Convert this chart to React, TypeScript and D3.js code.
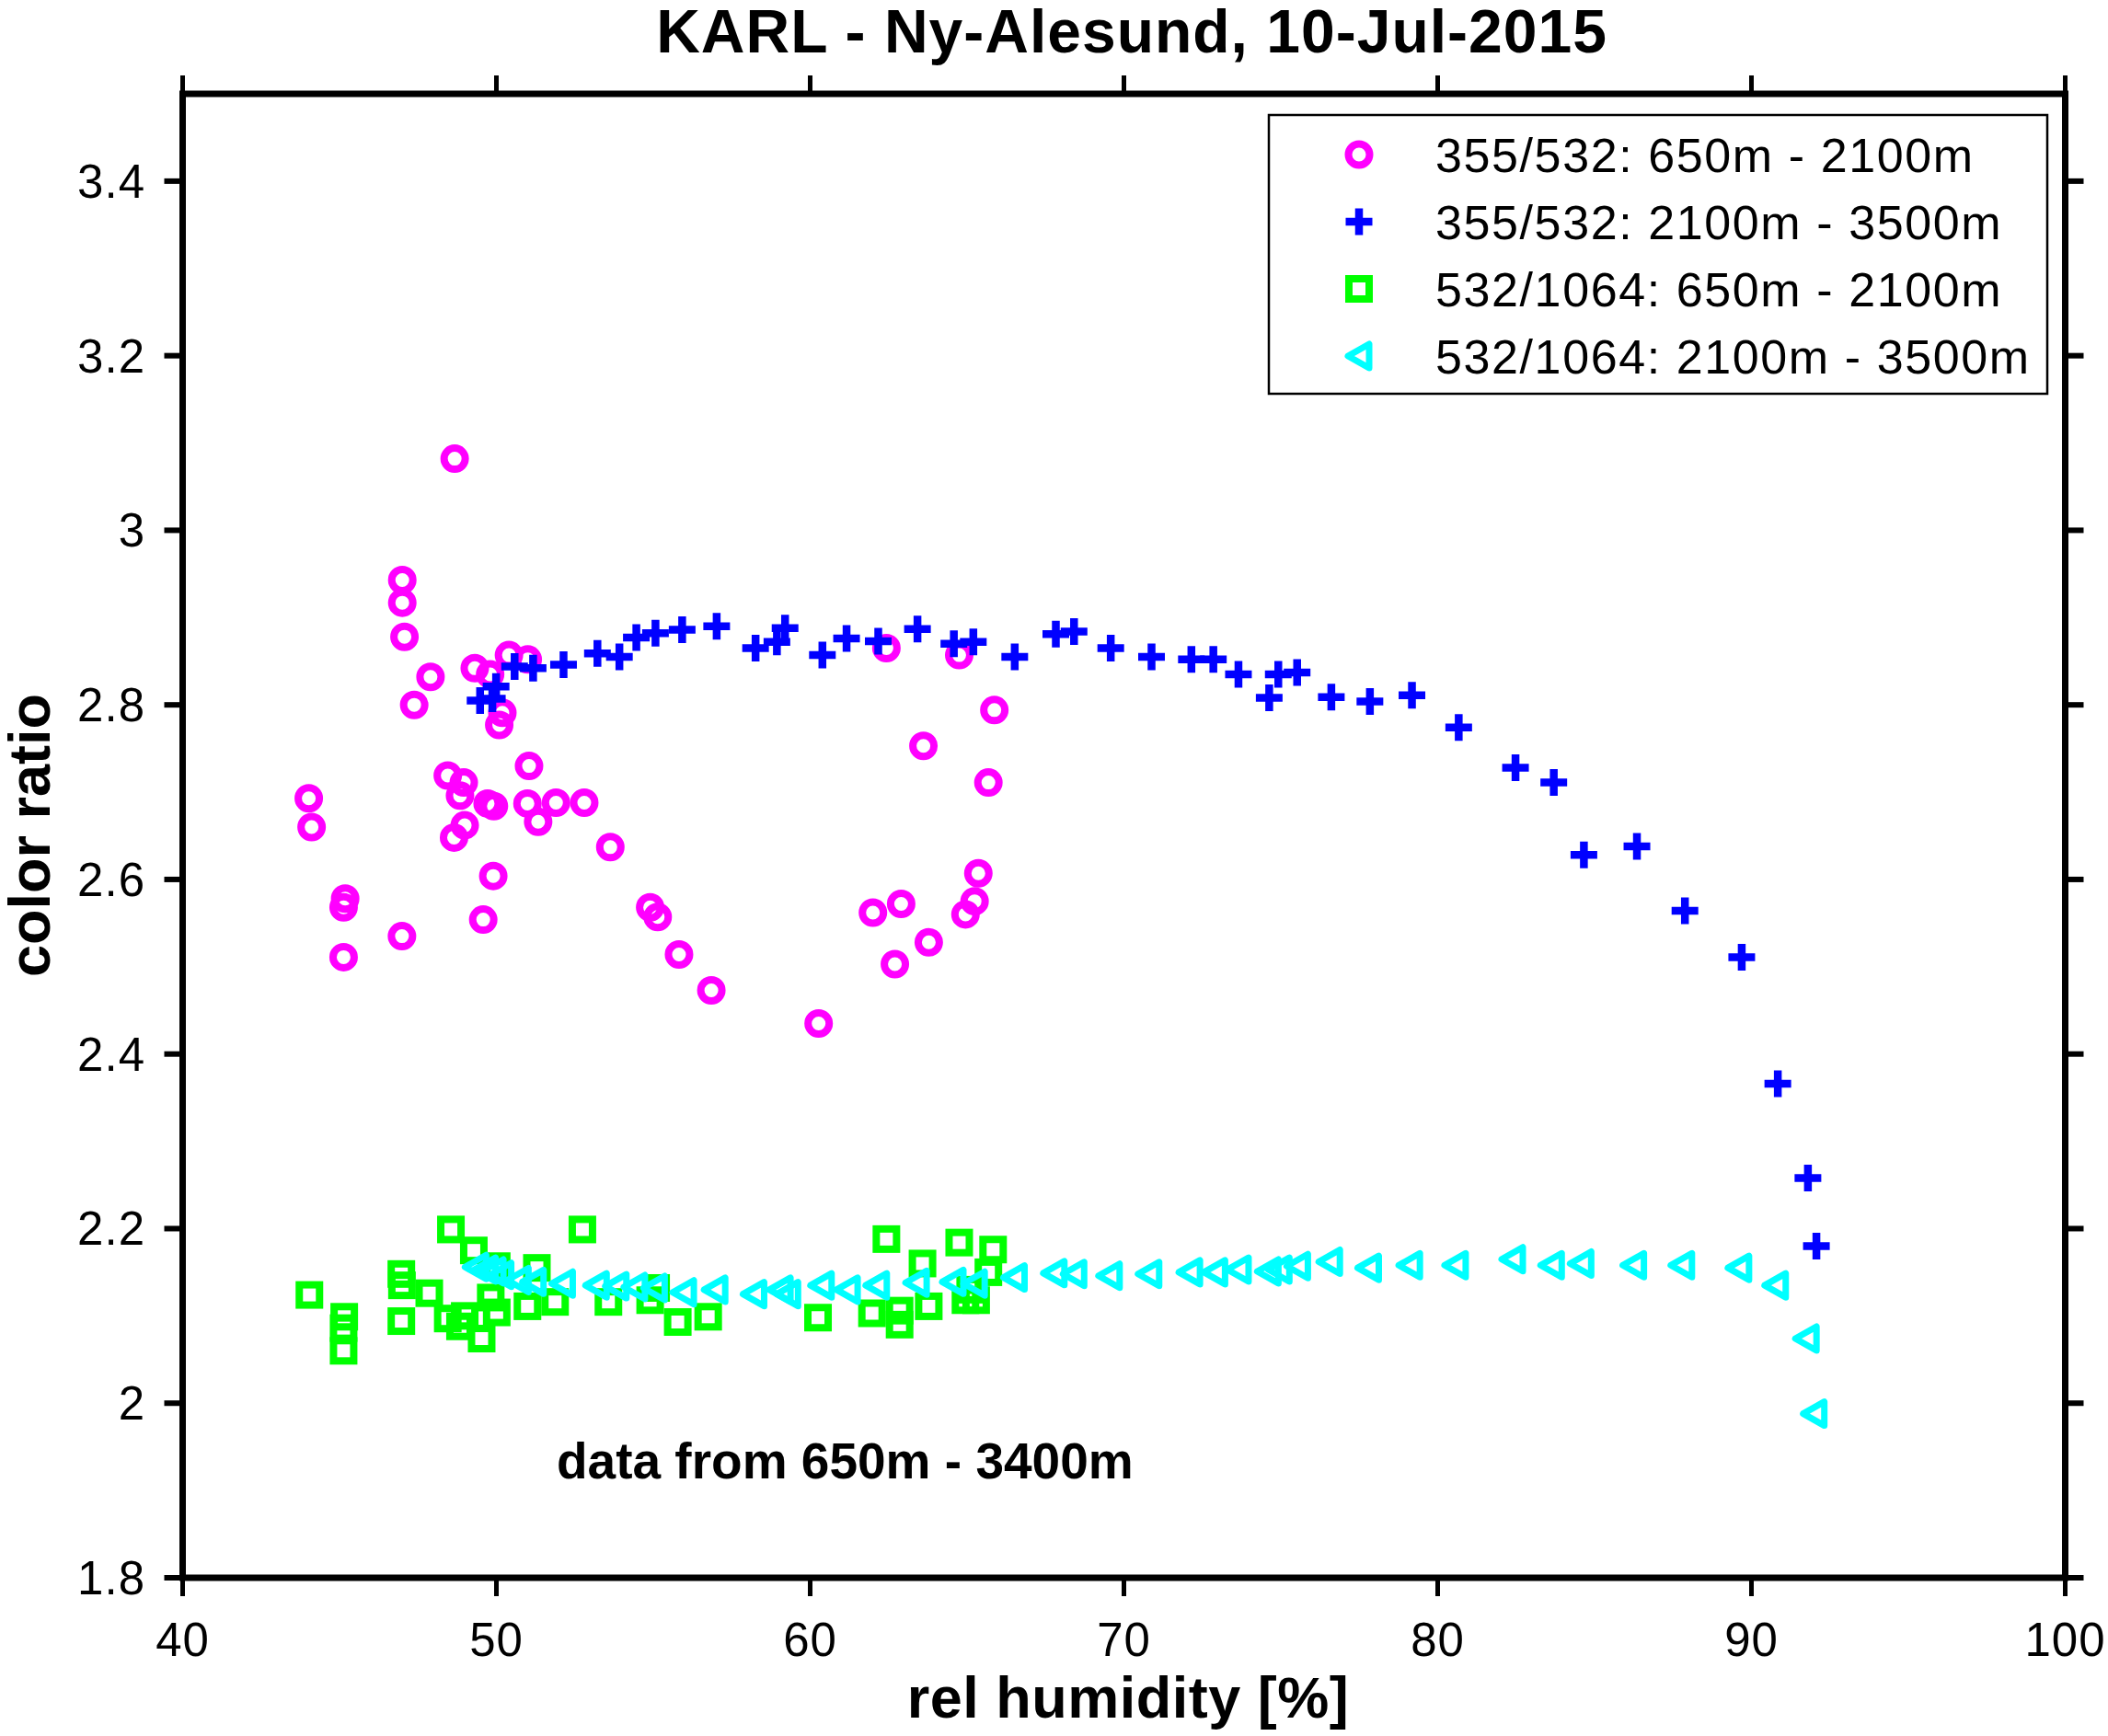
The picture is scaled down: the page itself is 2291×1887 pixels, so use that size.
import * as d3 from "d3";
import { useEffect } from "react";

// rel humidity [%], color ratio
const ratio355Low: [number, number][] = [
  [44.02, 2.693], [44.11, 2.66], [45.18, 2.578], [45.13, 2.568], [45.13, 2.511],
  [47.0, 2.943], [47.0, 2.917], [47.07, 2.878], [46.99, 2.535], [47.38, 2.8],
  [47.9, 2.832], [48.67, 3.082], [48.45, 2.719], [48.96, 2.711], [48.84, 2.696],
  [48.65, 2.648], [48.99, 2.662], [49.31, 2.842], [49.72, 2.687], [49.92, 2.684],
  [49.8, 2.835], [49.9, 2.604], [49.58, 2.554], [50.19, 2.791], [50.09, 2.777],
  [50.4, 2.857], [51.0, 2.852], [51.04, 2.73], [50.99, 2.687], [51.33, 2.666],
  [51.9, 2.688], [52.8, 2.688], [53.63, 2.637], [54.9, 2.568], [55.14, 2.557],
  [55.82, 2.514], [56.85, 2.473], [60.27, 2.435], [62.0, 2.562], [62.43, 2.865],
  [62.7, 2.503], [62.9, 2.572], [63.61, 2.753], [63.78, 2.528], [64.75, 2.857],
  [64.95, 2.56], [65.24, 2.575], [65.36, 2.607], [65.68, 2.711], [65.87, 2.794],
];

const ratio355High: [number, number][] = [
  [49.48, 2.805], [49.87, 2.807], [49.99, 2.821], [50.58, 2.844], [51.17, 2.842],
  [52.14, 2.846], [53.22, 2.859], [53.92, 2.855], [54.46, 2.877], [55.07, 2.882],
  [55.92, 2.886], [57.02, 2.89], [58.26, 2.865], [58.94, 2.872], [59.2, 2.888],
  [60.39, 2.857], [61.16, 2.876], [62.17, 2.873], [63.42, 2.887], [64.58, 2.87],
  [65.2, 2.872], [66.52, 2.855], [67.83, 2.881], [68.41, 2.884], [69.58, 2.865],
  [70.88, 2.855], [72.15, 2.852], [72.85, 2.852], [73.65, 2.835], [74.63, 2.808],
  [74.92, 2.835], [75.52, 2.837], [76.61, 2.809], [77.84, 2.804], [79.18, 2.811],
  [80.67, 2.774], [82.48, 2.728], [83.7, 2.711], [84.66, 2.628], [86.35, 2.638],
  [87.88, 2.564], [89.69, 2.511], [90.84, 2.366], [91.8, 2.258], [92.07, 2.18],
];

const ratio532Low: [number, number][] = [
  [44.04, 2.124], [45.15, 2.099], [45.13, 2.086], [45.13, 2.06], [46.97, 2.148],
  [46.99, 2.135], [46.97, 2.094], [47.86, 2.126], [48.55, 2.199], [49.28, 2.175],
  [48.45, 2.097], [48.84, 2.088], [48.99, 2.1], [49.53, 2.074], [50.01, 2.157],
  [49.82, 2.121], [50.01, 2.104], [51.29, 2.155], [50.99, 2.111], [51.87, 2.116],
  [52.74, 2.199], [53.57, 2.116], [55.09, 2.132], [54.9, 2.118], [55.78, 2.093],
  [56.75, 2.099], [60.25, 2.098], [62.43, 2.188], [61.97, 2.103], [62.85, 2.106],
  [62.85, 2.09], [63.58, 2.16], [63.78, 2.111], [64.75, 2.184], [65.83, 2.176],
  [65.68, 2.15], [64.95, 2.118], [65.29, 2.118], [65.1, 2.13],
];

const ratio532High: [number, number][] = [
  [49.35, 2.156], [49.65, 2.153], [49.9, 2.151], [50.15, 2.147], [50.7, 2.141],
  [51.18, 2.139], [52.11, 2.137], [53.19, 2.135], [53.82, 2.134], [54.41, 2.133],
  [55.04, 2.132], [55.97, 2.127], [56.97, 2.13], [58.21, 2.125], [59.05, 2.13],
  [59.29, 2.125], [60.36, 2.135], [61.19, 2.13], [62.12, 2.135], [63.39, 2.138],
  [64.56, 2.139], [65.24, 2.137], [66.51, 2.144], [67.78, 2.149], [68.41, 2.148],
  [69.54, 2.146], [70.8, 2.148], [72.1, 2.15], [72.9, 2.15], [73.65, 2.153],
  [74.6, 2.151], [74.95, 2.153], [75.54, 2.157], [76.56, 2.162], [77.8, 2.155],
  [79.11, 2.158], [80.57, 2.158], [82.39, 2.165], [83.63, 2.158], [84.57, 2.16],
  [86.25, 2.158], [87.78, 2.158], [89.6, 2.155], [90.77, 2.135], [91.75, 2.074],
  [92.0, 1.988],
];

const legendLabels = [
  "355/532: 650m - 2100m",
  "355/532: 2100m - 3500m",
  "532/1064: 650m - 2100m",
  "532/1064: 2100m - 3500m",
];

const xTicks = [40, 50, 60, 70, 80, 90, 100];
const yTicks = [1.8, 2, 2.2, 2.4, 2.6, 2.8, 3, 3.2, 3.4];

const W = 2291;
const H = 1887;
const FONT = "'Liberation Sans', Arial, Helvetica, sans-serif";

const x = d3.scaleLinear().domain([40, 100]).range([198.5, 2244.5]);
const y = d3.scaleLinear().domain([1.8, 3.5]).range([1715, 102]);

type Kind = "circle" | "plus" | "square" | "tri";

const Marker = ({ kind, cx, cy }: { kind: Kind; cx: number; cy: number }) => {
  if (kind === "circle")
    return <circle cx={cx} cy={cy} r={11.5} fill="none" stroke="#ff00ff" strokeWidth={8} />;
  if (kind === "plus")
    return (
      <path
        d={`M${cx - 14.5},${cy}H${cx + 14.5}M${cx},${cy - 14.5}V${cy + 14.5}`}
        stroke="#0000ff"
        strokeWidth={8.5}
      />
    );
  if (kind === "square")
    return (
      <rect x={cx - 11} y={cy - 11} width={22} height={22} fill="none" stroke="#00ff00" strokeWidth={8} />
    );
  return (
    <path
      d={`M${cx - 12},${cy}L${cx + 11},${cy - 13}L${cx + 11},${cy + 13}Z`}
      fill="none"
      stroke="#00ffff"
      strokeWidth={7}
      strokeLinejoin="round"
    />
  );
};

const series: { kind: Kind; data: [number, number][] }[] = [
  { kind: "circle", data: ratio355Low },
  { kind: "plus", data: ratio355High },
  { kind: "square", data: ratio532Low },
  { kind: "tri", data: ratio532High },
];

const App = () => {
  useEffect(() => {
    document.body.style.margin = "0";
  }, []);

  const [x0, x1] = x.range();
  const [y0, y1] = y.range();
  const tick = 20;
  const fmt = d3.format("~g");

  return (
    <svg width={W} height={H} style={{ display: "block", background: "#fff" }} fontFamily={FONT}>
      <rect width={W} height={H} fill="#fff" />

      {/* markers */}
      {series.map((s) => (
        <g key={s.kind}>
          {s.data.map((d, i) => (
            <Marker key={i} kind={s.kind} cx={x(d[0])} cy={y(d[1])} />
          ))}
        </g>
      ))}

      {/* annotation */}
      <text x={x(51.92)} y={y(1.914)} fontSize={55} fontWeight="bold">
        data from 650m - 3400m
      </text>

      {/* legend */}
      <g>
        <rect x={1379} y={125} width={846} height={303} fill="#fff" stroke="#000" strokeWidth={2.5} />
        {legendLabels.map((label, i) => {
          const cy = 168 + i * 73;
          return (
            <g key={label}>
              <Marker kind={series[i].kind} cx={1477} cy={cy} />
              <text x={1560} y={cy + 19} fontSize={52} letterSpacing={1.6}>
                {label}
              </text>
            </g>
          );
        })}
      </g>

      {/* frame and ticks */}
      <rect x={x0} y={y1} width={x1 - x0} height={y0 - y1} fill="none" stroke="#000" strokeWidth={7} />
      {xTicks.map((t) => (
        <g key={t}>
          <line x1={x(t)} x2={x(t)} y1={y0} y2={y0 + tick} stroke="#000" strokeWidth={5} />
          <line x1={x(t)} x2={x(t)} y1={y1} y2={y1 - tick} stroke="#000" strokeWidth={5} />
          <text x={x(t)} y={1800} fontSize={51} textAnchor="middle" letterSpacing={1}>
            {t}
          </text>
        </g>
      ))}
      {yTicks.map((t) => (
        <g key={t}>
          <line x1={x0 - tick} x2={x0} y1={y(t)} y2={y(t)} stroke="#000" strokeWidth={6} />
          <line x1={x1} x2={x1 + tick} y1={y(t)} y2={y(t)} stroke="#000" strokeWidth={6} />
          <text x={158} y={y(t) + 18} fontSize={51} textAnchor="end" letterSpacing={1}>
            {fmt(t)}
          </text>
        </g>
      ))}

      {/* titles */}
      <text x={1230} y={57} fontSize={66} fontWeight="bold" textAnchor="middle" letterSpacing={1}>
        KARL - Ny-Alesund, 10-Jul-2015
      </text>
      <text x={1226} y={1867} fontSize={63} fontWeight="bold" textAnchor="middle" letterSpacing={0.5}>
        rel humidity [%]
      </text>
      <text
        transform={`translate(54,908) rotate(-90)`}
        fontSize={63}
        fontWeight="bold"
        textAnchor="middle"
      >
        color ratio
      </text>
    </svg>
  );
};

export default App;
